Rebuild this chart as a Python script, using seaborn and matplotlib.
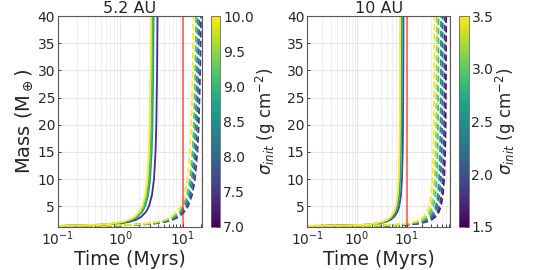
import numpy as np
import pandas as pd
import matplotlib
matplotlib.use('Agg')
import matplotlib.pyplot as plt
import seaborn as sns

# mass levels (Earth masses) shared by every growth track
mass_levels = [1.35, 1.45, 1.6, 1.8, 2.1, 2.5, 3, 4, 5, 7, 10, 15, 20, 30, 40]

# 5.2 AU: time (Myrs) at which each track reaches the mass levels
sigma_52_solid = [10.0, 9.1, 8.7, 7.4]
t_52_solid = [
    [0.1, 0.205, 0.468, 0.754, 1.082, 1.404, 1.687, 2.051, 2.272, 2.532, 2.733, 2.893, 2.977, 3.062, 3.104],
    [0.1, 0.217, 0.497, 0.800, 1.149, 1.490, 1.791, 2.177, 2.412, 2.688, 2.901, 3.071, 3.160, 3.250, 3.295],
    [0.1, 0.227, 0.518, 0.835, 1.199, 1.555, 1.868, 2.272, 2.516, 2.804, 3.028, 3.204, 3.298, 3.391, 3.438],
    [0.1, 0.261, 0.598, 0.963, 1.382, 1.793, 2.154, 2.619, 2.901, 3.233, 3.490, 3.694, 3.801, 3.909, 3.963],
]
sigma_52_dashed = [10.0, 9.2, 8.6, 7.9, 7.5]
t_52_dashed = [
    [0.1, 0.71, 1.65, 2.71, 3.98, 5.29, 6.53, 8.21, 9.34, 10.79, 12.04, 13.17, 13.83, 14.58, 15.03],
    [0.1, 0.78, 1.81, 2.98, 4.37, 5.81, 7.16, 9.02, 10.26, 11.84, 13.22, 14.46, 15.18, 16.01, 16.50],
    [0.1, 0.83, 1.93, 3.17, 4.65, 6.17, 7.61, 9.58, 10.90, 12.59, 14.05, 15.37, 16.14, 17.01, 17.54],
    [0.1, 0.88, 2.04, 3.35, 4.92, 6.54, 8.06, 10.15, 11.55, 13.33, 14.88, 16.28, 17.09, 18.02, 18.58],
    [0.1, 0.94, 2.18, 3.57, 5.24, 6.96, 8.59, 10.81, 12.30, 14.20, 15.85, 17.34, 18.21, 19.19, 19.79],
]

# 10 AU
sigma_10_solid = [3.5, 2.7, 2.0]
t_10_solid = [
    [0.1, 0.65, 1.45, 2.28, 3.20, 4.04, 4.74, 5.56, 6.02, 6.50, 6.83, 7.06, 7.16, 7.26, 7.30],
    [0.1, 0.70, 1.55, 2.43, 3.41, 4.31, 5.06, 5.93, 6.42, 6.94, 7.29, 7.54, 7.65, 7.75, 7.80],
    [0.1, 0.76, 1.69, 2.65, 3.72, 4.70, 5.51, 6.46, 6.99, 7.56, 7.94, 8.20, 8.32, 8.44, 8.49],
]
sigma_10_dashed = [3.5, 3.2, 2.9, 2.5, 2.2, 1.9, 1.6]
t_10_dashed = [
    [0.1, 2.76, 6.24, 9.95, 14.08, 17.97, 21.34, 25.45, 27.81, 30.46, 32.38, 33.80, 34.49, 35.14, 35.47],
    [0.1, 3.07, 6.95, 11.07, 15.68, 20.00, 23.76, 28.32, 30.95, 33.90, 36.04, 37.61, 38.38, 39.11, 39.47],
    [0.1, 3.34, 7.57, 12.06, 17.07, 21.78, 25.87, 30.84, 33.70, 36.92, 39.25, 40.96, 41.80, 42.59, 42.99],
    [0.1, 3.75, 8.48, 13.51, 19.13, 24.40, 28.99, 34.56, 37.76, 41.36, 43.98, 45.90, 46.84, 47.72, 48.17],
    [0.1, 4.04, 9.15, 14.58, 20.64, 26.33, 31.28, 37.29, 40.75, 44.63, 47.45, 49.53, 50.54, 51.50, 51.98],
    [0.1, 4.43, 10.03, 15.97, 22.62, 28.86, 34.28, 40.87, 44.66, 48.91, 52.00, 54.28, 55.39, 56.43, 56.96],
    [0.1, 4.74, 10.73, 17.10, 24.21, 30.89, 36.69, 43.74, 47.80, 52.35, 55.66, 58.09, 59.28, 60.40, 60.96],
]


def make_frame(sig_solid, t_solid, sig_dashed, t_dashed):
    rows = []
    for kind, sigs, times in [('solid', sig_solid, t_solid), ('dashed', sig_dashed, t_dashed)]:
        for i, (s, ts) in enumerate(zip(sigs, times)):
            for t, m in zip(ts, mass_levels):
                rows.append({'time': t, 'mass': m, 'sigma': s, 'kind': kind, 'curve': f'{kind}{i}'})
    return pd.DataFrame(rows)


sns.set_style('whitegrid', {'axes.edgecolor': '0.35', 'grid.color': '0.9',
                            'xtick.bottom': True, 'ytick.left': True,
                            'xtick.direction': 'in', 'ytick.direction': 'in'})
plt.rcParams['font.family'] = ['DejaVu Sans']

fig = plt.figure(figsize=(5.4, 2.7), dpi=100)

panels = [
    ('5.2 AU', make_frame(sigma_52_solid, t_52_solid, sigma_52_dashed, t_52_dashed),
     (7.0, 10.0), 20.5, [0.107, 0.16, 0.267, 0.78], [0.391, 0.16, 0.017, 0.78]),
    ('10 AU', make_frame(sigma_10_solid, t_10_solid, sigma_10_dashed, t_10_dashed),
     (1.5, 3.5), 74, [0.569, 0.16, 0.265, 0.78], [0.850, 0.16, 0.018, 0.78]),
]

for i, (title, df, norm, xmax, axpos, cpos) in enumerate(panels):
    ax = fig.add_axes(axpos)
    sns.lineplot(data=df, x='time', y='mass', hue='sigma', style='kind', units='curve',
                 estimator=None, sort=False, palette='viridis', hue_norm=norm,
                 dashes={'solid': '', 'dashed': (3.5, 1.8)}, linewidth=1.3,
                 legend=False, ax=ax)
    ax.axvline(10, color='red', alpha=0.6, lw=1.2)
    ax.set_xscale('log')
    ax.set_xlim(0.1, xmax)
    ax.set_ylim(1.2, 40)
    ax.set_yticks([5, 10, 15, 20, 25, 30, 35, 40])
    ax.grid(which='minor', axis='x', color='0.93', lw=0.6)
    ax.tick_params(which='both', labelsize=10, length=2.5, width=0.6, pad=2)
    ax.set_title(title, fontsize=11.5, pad=1.5)
    ax.set_xlabel('Time (Myrs)', fontsize=13.5, labelpad=1)
    if i == 0:
        ax.set_ylabel(r'Mass (M$_\oplus$)', fontsize=14, labelpad=2)
    else:
        ax.set_ylabel('')
    for sp in ax.spines.values():
        sp.set_linewidth(0.8)

    cax = fig.add_axes(cpos)
    sm = plt.cm.ScalarMappable(norm=plt.Normalize(*norm), cmap='viridis')
    cb = fig.colorbar(sm, cax=cax)
    cb.set_ticks(np.arange(norm[0], norm[1] + 0.01, 0.5))
    cb.ax.yaxis.set_major_formatter(matplotlib.ticker.FormatStrFormatter('%.1f'))
    cb.ax.tick_params(labelsize=10, direction='in', length=3, width=0.6, pad=2)
    cb.outline.set_edgecolor('0.4')
    cb.outline.set_linewidth(0.6)
    cb.set_label(r'$\sigma_{init}$ (g cm$^{-2}$)', fontsize=12, labelpad=0)

fig.savefig('out.png', dpi=100)
